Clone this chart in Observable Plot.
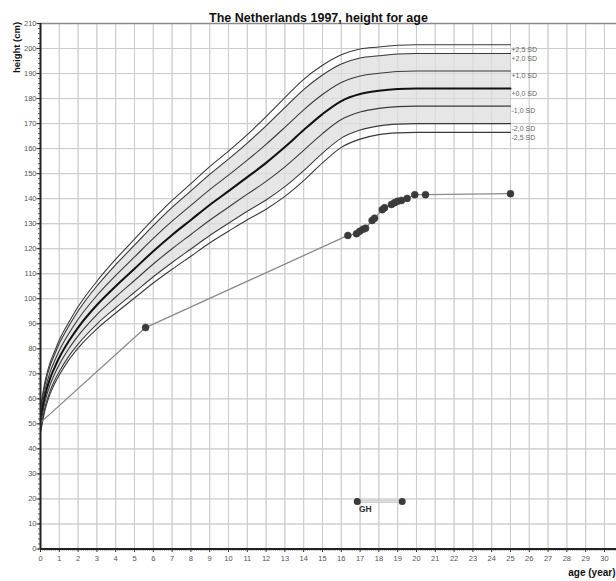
<!DOCTYPE html>
<html>
<head>
<meta charset="utf-8">
<script src="https://cdn.jsdelivr.net/npm/d3@7"></script>
<script src="https://cdn.jsdelivr.net/npm/@observablehq/plot@0.6"></script>
<style>
  html, body { margin: 0; padding: 0; background: #fff; }
  #chart svg { display: block; }
</style>
</head>
<body>
<div id="chart"></div>
<script>
// Reference curve ages (years)
const ages = [0,0.25,0.5,0.75,1,1.5,2,3,4,5,6,7,8,9,10,11,12,13,14,15,16,17,18,19,20,21,25];
// Reference curves (cm)
const sdP25 = [56.5,67.3,74.3,79,83.5,90.5,96.8,107,115.8,123.8,131.8,139.3,146,152.8,159,165.6,172.8,180.4,187.7,193.3,197.5,199.8,200.6,201.3,201.5,201.5,201.5];
const sdP20 = [55.5,66.1,73,77.7,82.1,89,95.1,105.1,113.6,121.4,129.2,136.5,143.1,149.7,155.8,162.2,169.1,176.4,183.6,189.4,193.8,196.2,197.1,197.8,198,198,198];
const sdP10 = [53.5,63.8,70.5,75.1,79.3,86,91.8,101.3,109.3,116.7,124.1,131,137.3,143.6,149.4,155.4,161.7,168.5,175.5,181.6,186.4,189,190.1,190.8,191,191,191];
const sd00  = [51.5,61.5,68,72.5,76.5,83,88.5,97.5,105,112,119,125.5,131.5,137.5,143,148.6,154.3,160.6,167.4,173.8,179,181.8,183.1,183.8,184,184,184];
const sdM10 = [49.5,59.2,65.5,69.9,73.7,80,85.2,93.7,100.7,107.3,113.9,120,125.7,131.4,136.6,141.8,146.9,152.7,159.3,166,171.6,174.6,176.1,176.8,177,177,177];
const sdM20 = [47.5,56.9,63,67.3,70.9,77,81.9,89.9,96.4,102.6,108.8,114.5,119.9,125.3,130.2,135,139.5,144.8,151.2,158.2,164.2,167.4,169.1,169.8,170,170,170];
const sdM25 = [46.5,55.8,61.8,66,69.5,75.5,80.3,88,94.3,100.3,106.3,111.8,117,122.3,127,131.6,135.8,140.9,147.2,154.3,160.5,163.8,165.6,166.3,166.5,166.5,166.5];
const curveNames = ["+2,5 SD","+2,0 SD","+1,0 SD","+0,0 SD","-1,0 SD","-2,0 SD","-2,5 SD"];
const curveValues = [sdP25, sdP20, sdP10, sd00, sdM10, sdM20, sdM25];

// Patient measurements
const pAge    = [0, 5.59, 16.35, 16.81, 16.98, 17.16, 17.29, 17.64, 17.77, 18.18, 18.3, 18.67, 18.83, 19.0, 19.2, 19.5, 19.91, 20.48, 25.0];
const pHeight = [50.5, 88.5, 125.3, 126, 127, 127.8, 128.2, 131.3, 132.2, 135.6, 136.4, 137.7, 138.4, 139, 139.3, 140.1, 141.6, 141.6, 142];

// GH treatment period
const ghAge = [16.85, 19.24];
const ghHeight = [19, 19];

// Ticks
const xTicks = d3.range(0, 31, 1);
const yTicks = d3.range(0, 211, 10);

const title = "The Netherlands 1997, height for age";
const yLabel = "height (cm)";
const xLabel = "age (year)";

// Tables
const curveRows = [];
curveNames.forEach((name, i) => ages.forEach((a, j) => curveRows.push({name, age: a, h: curveValues[i][j]})));
const bandRows = ages.map((a, j) => ({age: a, lo: sdM20[j], hi: sdP20[j]}));
const endRows = curveNames.map((name, i) => ({name, age: ages[ages.length - 1], h: curveValues[i][ages.length - 1]}));
const patient = pAge.map((a, i) => ({age: a, h: pHeight[i]}));
const gh = ghAge.map((a, i) => ({age: a, h: ghHeight[i]}));

const font = "'Liberation Sans', Arial, sans-serif";

const chart = Plot.plot({
  width: 616,
  height: 581,
  marginLeft: 40,
  marginRight: 0,
  marginTop: 23,
  marginBottom: 32.5,
  style: {fontFamily: font, background: "#fff", overflow: "visible"},
  x: {domain: [0, 30.64], axis: null, label: null},
  y: {domain: [0, 210], axis: null, label: null},
  marks: [
    Plot.gridX(xTicks, {stroke: "#c8c8c8", strokeOpacity: 1, strokeWidth: 1}),
    Plot.gridY(yTicks, {stroke: "#c8c8c8", strokeOpacity: 1, strokeWidth: 1}),
    Plot.areaY(bandRows, {x: "age", y1: "lo", y2: "hi", fill: "#e6e6e6", curve: "monotone-x"}),
    Plot.gridX(xTicks, {stroke: "#cfcfcf", strokeOpacity: 0.6, strokeWidth: 1}),
    Plot.gridY(yTicks, {stroke: "#cfcfcf", strokeOpacity: 0.6, strokeWidth: 1}),
    Plot.line(curveRows, {
      x: "age", y: "h", z: "name", curve: "monotone-x",
      stroke: d => d.name === "+0,0 SD" ? "#111" : "#3a3a3a",
      strokeWidth: d => d.name === "+0,0 SD" ? 2 : 1.1
    }),
    Plot.text(endRows, {x: "age", y: "h", text: "name", dx: 1, dy: 5, textAnchor: "start", fontSize: 7, fill: "#666"}),
    // patient
    Plot.line(patient, {x: "age", y: "h", stroke: "#8a8a8a", strokeWidth: 1.3}),
    Plot.dot(patient.slice(1), {x: "age", y: "h", r: 3.5, fill: "#3a3a3a", stroke: "#3a3a3a", strokeWidth: 0.5}),
    // GH
    Plot.line(gh, {x: "age", y: "h", stroke: "#bdbdbd", strokeWidth: 2.5}),
    Plot.line(gh, {x: "age", y: "h", stroke: "#f0f0f0", strokeWidth: 0.8}),
    Plot.dot(gh, {x: "age", y: "h", r: 3.5, fill: "#3a3a3a"}),
    Plot.text(gh.slice(0, 1), {x: "age", y: "h", text: () => "GH", dx: 8, dy: 8, fontSize: 8.5, fontWeight: "bold", fill: "#333"}),
    // top frame
    Plot.ruleY([210], {stroke: "#8a8a8a", strokeWidth: 1.5}),
    // axes
    Plot.axisX(d3.range(0, 30.65, 0.1), {tickSize: 2, text: null, label: null, stroke: "#333", strokeWidth: 0.8}),
    Plot.axisX(xTicks, {tickSize: 3.5, tickPadding: 3, tickFormat: d => d, label: null, fontSize: 7.5, fill: "#555", stroke: "#333"}),
    Plot.axisY(d3.range(0, 211, 2), {tickSize: 2, text: null, label: null, stroke: "#333", strokeWidth: 0.8}),
    Plot.axisY(yTicks, {tickSize: 3.5, tickPadding: 0.5, tickFormat: d => d, label: null, fontSize: 7.5, fill: "#555", stroke: "#333"}),
    Plot.ruleX([0], {stroke: "#222", strokeWidth: 2}),
    Plot.ruleY([0], {stroke: "#222", strokeWidth: 2}),
    // titles
    Plot.text([title], {frameAnchor: "top", dx: -10, dy: -10, fontSize: 12.5, fontWeight: "bold", fill: "#111"}),
    Plot.text([yLabel], {frameAnchor: "top-left", dx: -24, dy: 24, rotate: -90, textAnchor: "middle", lineAnchor: "middle", fontSize: 9.5, fontWeight: "bold", fill: "#111"}),
    Plot.text([xLabel], {frameAnchor: "bottom-right", dx: -1, dy: 24, textAnchor: "end", lineAnchor: "middle", fontSize: 10, fontWeight: "bold", fill: "#111"})
  ]
});
document.getElementById("chart").appendChild(chart);
</script>
</body>
</html>
